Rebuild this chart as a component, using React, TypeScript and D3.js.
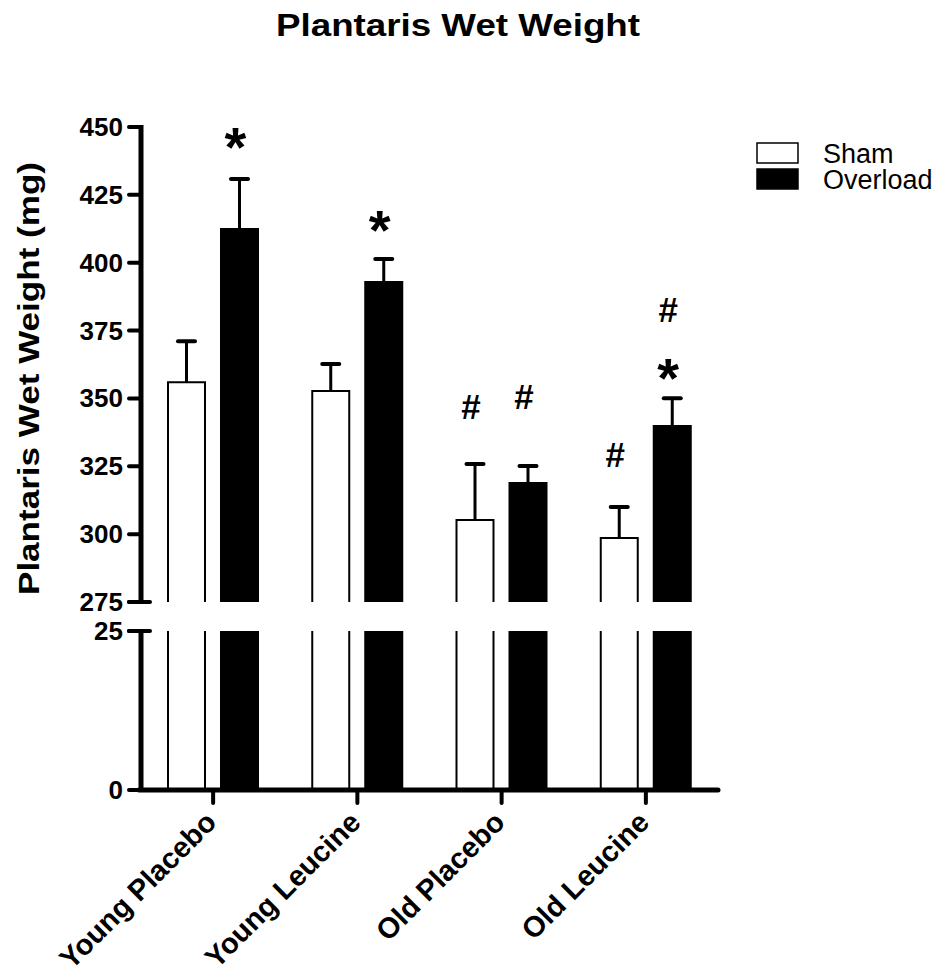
import * as d3 from 'd3'

const groups = ['Young Placebo', 'Young Leucine', 'Old Placebo', 'Old Leucine']
const series = ['Sham', 'Overload']
const shamMean = [356.0, 352.7, 305.2, 298.6]
const shamSem = [15.1, 10.0, 20.6, 11.4]
const overloadMean = [412.4, 392.9, 318.8, 339.8]
const overloadSem = [18.4, 8.5, 6.3, 10.3]
const upperTicks = [275, 300, 325, 350, 375, 400, 425, 450]
const lowerTicks = [0, 25]

// significance marks, placed at a value level above a bar
const markGroup = ['Young Placebo', 'Young Leucine', 'Old Placebo', 'Old Placebo', 'Old Leucine', 'Old Leucine', 'Old Leucine']
const markSeries = ['Overload', 'Overload', 'Sham', 'Overload', 'Sham', 'Overload', 'Overload']
const markText = ['*', '*', '#', '#', '#', '*', '#']
const markLevel = [447.1, 416.5, 346.8, 350.5, 329.1, 361.9, 382.6]

const FONT = '"Liberation Sans", Arial, Helvetica, sans-serif'

export default function App() {
  const width = 948
  const height = 970
  const axisX = 141
  const axisRight = 718

  const yUp = d3.scaleLinear().domain([275, 450]).range([602, 127])
  const yLow = d3.scaleLinear().domain([0, 25]).range([790, 631])

  const x = d3.scaleBand().domain(groups).range([axisX, axisRight]).padding(0)
  const xs = d3.scaleBand().domain(series).range([27, 117]).paddingInner(0.302).paddingOuter(0)
  const bw = xs.bandwidth()

  const means: Record<string, number[]> = { Sham: shamMean, Overload: overloadMean }
  const sems: Record<string, number[]> = { Sham: shamSem, Overload: overloadSem }

  const bars = groups.flatMap((g, i) =>
    series.map(s => ({ g, s, mean: means[s][i], sem: sems[s][i], x0: (x(g) as number) + (xs(s) as number) }))
  )

  const yTop = yUp(275)
  const yBreak = yLow(25)
  const yBase = yLow(0)

  return (
    <svg width={width} height={height} style={{ position: 'absolute', left: 0, top: 0, background: '#fff' }}
      fontFamily={FONT}>
      <text x={458} y={36} textAnchor="middle" fontSize={31} fontWeight="bold" textLength={364}
        lengthAdjust="spacingAndGlyphs">Plantaris Wet Weight</text>

      <text transform={`translate(39,378.5) rotate(-90)`} textAnchor="middle" fontSize={30} fontWeight="bold"
        textLength={433} lengthAdjust="spacingAndGlyphs">Plantaris Wet Weight (mg)</text>

      {/* bars */}
      {bars.map((b, i) => {
        const fill = b.s === 'Sham' ? '#fff' : '#000'
        const top = yUp(b.mean)
        const cap = yUp(b.mean + b.sem)
        return (
          <g key={i}>
            <rect x={b.x0} y={top} width={bw} height={yTop - top} fill={fill} />
            <rect x={b.x0} y={yBreak} width={bw} height={yBase - yBreak} fill={fill} />
            <path d={`M${b.x0},${yTop}V${top}H${b.x0 + bw}V${yTop}`} fill="none" stroke="#000" strokeWidth={2} />
            <path d={`M${b.x0},${yBase}V${yBreak}M${b.x0 + bw},${yBreak}V${yBase}`} fill="none" stroke="#000" strokeWidth={2} />
            <line x1={b.x0 + bw / 2} x2={b.x0 + bw / 2} y1={top} y2={cap} stroke="#000" strokeWidth={3} />
            <line x1={b.x0 + bw / 2 - 8.5} x2={b.x0 + bw / 2 + 8.5} y1={cap} y2={cap}
              stroke="#000" strokeWidth={4} strokeLinecap="round" />
          </g>
        )
      })}

      {/* marks */}
      {markText.map((t, i) => {
        const cx = (x(markGroup[i]) as number) + (xs(markSeries[i]) as number) + bw / 2 - 4
        const cy = yUp(markLevel[i])
        const fs = t === '*' ? 56 : 35
        const base = t === '*' ? cy + 0.55 * fs : cy + 0.35 * fs
        return (
          <text key={i} x={cx} y={base} textAnchor="middle" fontSize={fs} fontWeight="bold">{t}</text>
        )
      })}

      {/* y axis */}
      <line x1={axisX} x2={axisX} y1={yUp(450) - 2} y2={yTop} stroke="#000" strokeWidth={5} />
      <line x1={axisX} x2={axisX} y1={yBreak} y2={yBase + 2} stroke="#000" strokeWidth={5} />
      <line x1={129} x2={150} y1={yTop} y2={yTop} stroke="#000" strokeWidth={4} strokeLinecap="round" />
      <line x1={129} x2={150} y1={yBreak} y2={yBreak} stroke="#000" strokeWidth={4} strokeLinecap="round" />
      {upperTicks.map(t => (
        <g key={'u' + t}>
          <line x1={129} x2={axisX} y1={yUp(t)} y2={yUp(t)} stroke="#000" strokeWidth={4} strokeLinecap="round" />
          <text x={123} y={yUp(t) + 9} textAnchor="end" fontSize={26} fontWeight="bold">{t}</text>
        </g>
      ))}
      {lowerTicks.map(t => (
        <g key={'l' + t}>
          <line x1={129} x2={axisX} y1={yLow(t)} y2={yLow(t)} stroke="#000" strokeWidth={4} strokeLinecap="round" />
          <text x={123} y={yLow(t) + 9} textAnchor="end" fontSize={26} fontWeight="bold">{t}</text>
        </g>
      ))}

      {/* x axis */}
      <line x1={axisX - 2} x2={axisRight} y1={yBase} y2={yBase} stroke="#000" strokeWidth={5} strokeLinecap="round" />
      {groups.map(g => {
        const cx = (x(g) as number) + x.bandwidth() / 2
        return (
          <g key={g}>
            <line x1={cx} x2={cx} y1={yBase} y2={yBase + 13} stroke="#000" strokeWidth={4} strokeLinecap="round" />
            <text transform={`translate(${cx + 5},${824}) rotate(-45)`} textAnchor="end" fontSize={29}
              fontWeight="bold">{g}</text>
          </g>
        )
      })}

      {/* legend */}
      {series.map((s, i) => (
        <g key={s} transform={`translate(757,${143 + i * 26})`}>
          <rect x={0} y={0} width={41} height={20} fill={s === 'Sham' ? '#fff' : '#000'} stroke="#000" strokeWidth={1.5} />
          <text x={66} y={20} fontSize={27}>{s}</text>
        </g>
      ))}
    </svg>
  )
}
